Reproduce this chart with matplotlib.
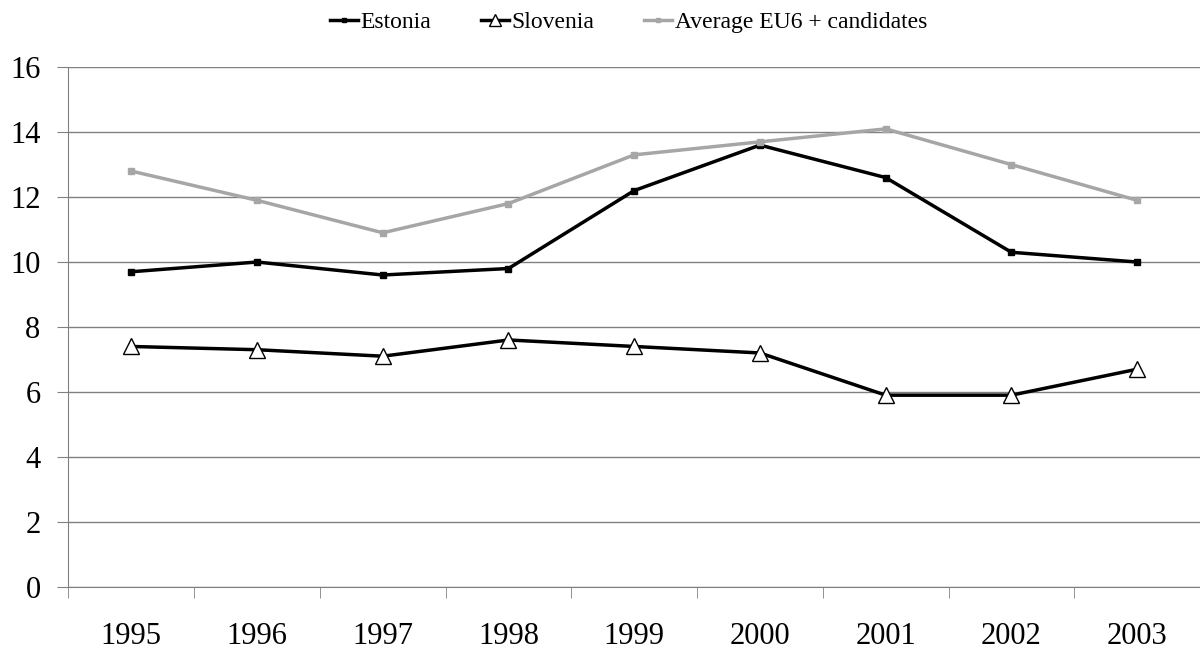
import matplotlib
matplotlib.use("Agg")
from matplotlib import pyplot as plt
import numpy as np

plt.rcParams['font.family'] = ['Liberation Serif', 'DejaVu Serif']

years = ['1995', '1996', '1997', '1998', '1999', '2000', '2001', '2002', '2003']
estonia = [9.7, 10.0, 9.6, 9.8, 12.2, 13.6, 12.6, 10.3, 10.0]
slovenia = [7.4, 7.3, 7.1, 7.6, 7.4, 7.2, 5.9, 5.9, 6.7]
average = [12.8, 11.9, 10.9, 11.8, 13.3, 13.7, 14.1, 13.0, 11.9]

x = np.arange(len(years))

fig = plt.figure(figsize=(12, 6.52), dpi=100)
ax = fig.add_axes([0.057, 0.1, 0.943, 0.797])

ax.plot(x, estonia, color='black', lw=2.5, marker='s', ms=4, label='Estonia')
ax.plot(x, slovenia, color='black', lw=2.5, marker='^', ms=11,
        markerfacecolor='white', markeredgecolor='black', markeredgewidth=1,
        label='Slovenia')
ax.plot(x, average, color='#a6a6a6', lw=2.5, marker='s', ms=4,
        label='Average EU6 + candidates')

ax.set_xlim(-0.5, len(years) - 0.5)
ax.set_ylim(0, 16)
ax.set_yticks(range(0, 17, 2))
ax.yaxis.grid(True, color='#808080', lw=1)
ax.set_axisbelow(True)

ax.set_xticks(x)
ax.set_xticklabels(years)
ax.set_xticks(np.arange(-0.5, len(years)), minor=True)
ax.tick_params(axis='x', which='major', length=0, pad=25, labelsize=22)
ax.tick_params(axis='x', which='minor', length=8, color='#808080', direction='out')
ax.tick_params(axis='y', length=8, color='#808080', labelsize=22, pad=12)

for s in ['top', 'right']:
    ax.spines[s].set_visible(False)
for s in ['left', 'bottom']:
    ax.spines[s].set_color('#808080')

ax.legend(loc='center', bbox_to_anchor=(0.495, 1.0865), ncol=3, frameon=False,
          fontsize=17, handlelength=1.2, handletextpad=0.1, columnspacing=2.1,
          markerscale=0.8)

fig.savefig('out.png', dpi=100)
